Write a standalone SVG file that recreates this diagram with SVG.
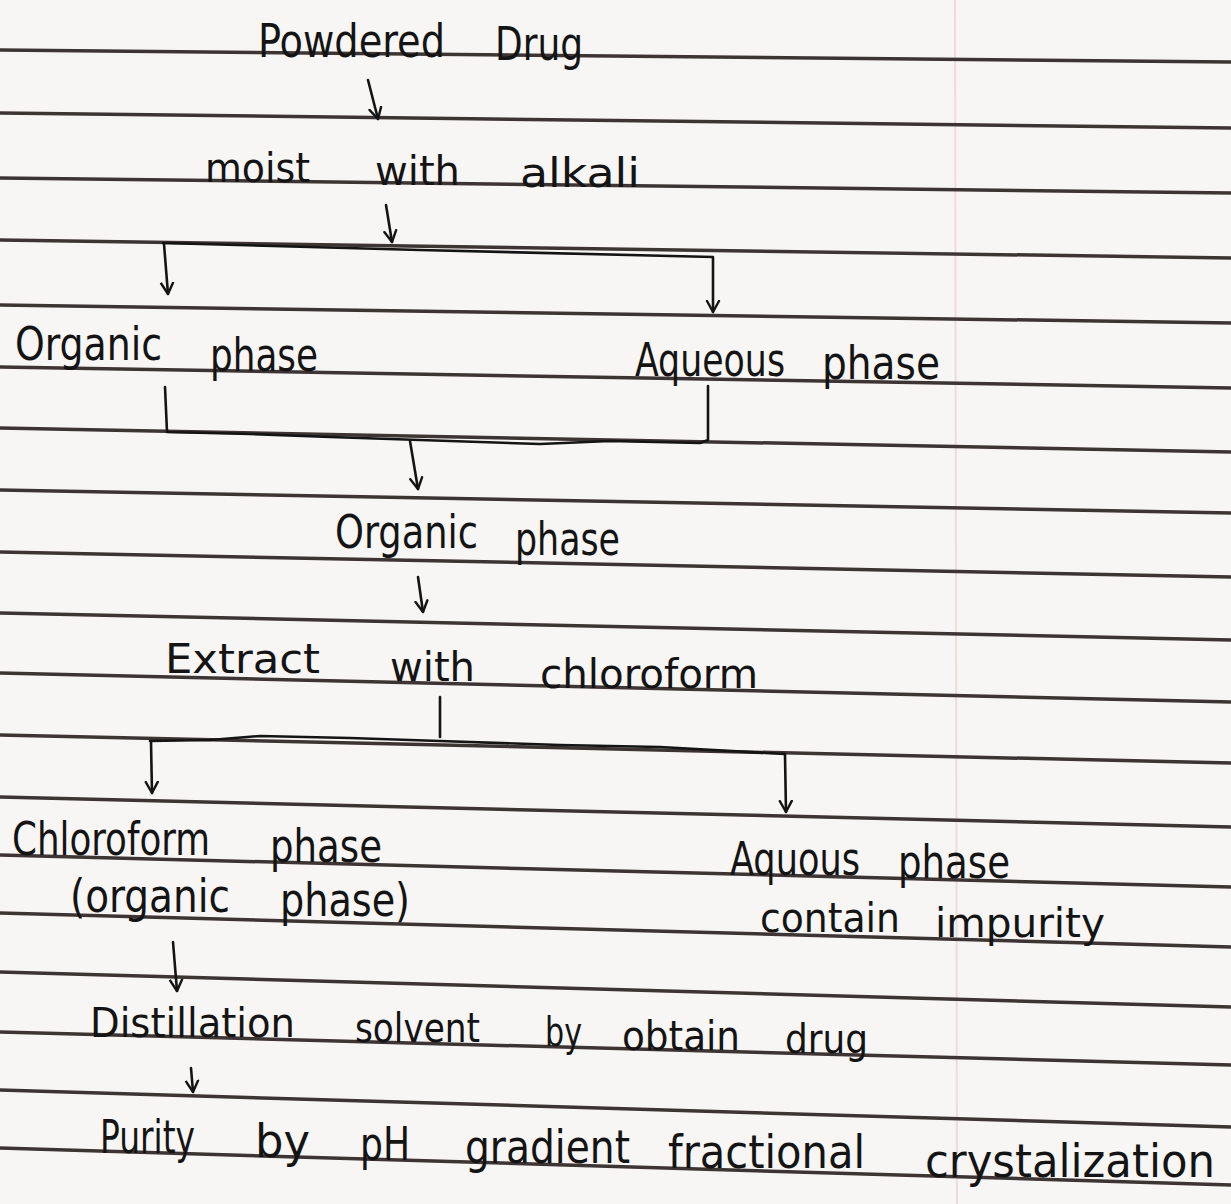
<svg xmlns="http://www.w3.org/2000/svg" width="1231" height="1204" viewBox="0 0 1231 1204">
<defs>
<marker id="ah" viewBox="-12 -8 14 16" refX="0" refY="0" markerWidth="14" markerHeight="16" markerUnits="userSpaceOnUse" orient="auto">
<path d="M-11,-6 L0,0 L-11,6" fill="none" stroke="#141414" stroke-width="2.4" stroke-linecap="round" stroke-linejoin="round"/>
</marker>
</defs>
<style>
.rule{stroke:#3d3434;stroke-width:3.5;fill:none}
.t{font-family:"DejaVu Sans Condensed","Liberation Sans",sans-serif;font-size:46px;fill:#141414}
.s{font-size:40px}
.c{fill:none;stroke:#141414;stroke-width:2.6;stroke-linecap:round;stroke-linejoin:round}
.a{marker-end:url(#ah)}
</style>
<rect width="1231" height="1204" fill="#f8f6f4"/>
<line x1="955" y1="0" x2="957" y2="1204" stroke="#ecdcdc" stroke-width="2"/>
<g id="ruled-lines">
<line class="rule" x1="0" y1="50" x2="1231" y2="62"/>
<line class="rule" x1="0" y1="113" x2="1231" y2="128"/>
<line class="rule" x1="0" y1="178" x2="1231" y2="193"/>
<line class="rule" x1="0" y1="240" x2="1231" y2="258"/>
<line class="rule" x1="0" y1="305" x2="1231" y2="323"/>
<line class="rule" x1="0" y1="367" x2="1231" y2="388"/>
<line class="rule" x1="0" y1="428" x2="1231" y2="452"/>
<line class="rule" x1="0" y1="490" x2="1231" y2="513"/>
<line class="rule" x1="0" y1="552" x2="1231" y2="577"/>
<line class="rule" x1="0" y1="613" x2="1231" y2="640"/>
<line class="rule" x1="0" y1="673" x2="1231" y2="702"/>
<line class="rule" x1="0" y1="735" x2="1231" y2="763"/>
<line class="rule" x1="0" y1="797" x2="1231" y2="827"/>
<line class="rule" x1="0" y1="855" x2="1231" y2="887"/>
<line class="rule" x1="0" y1="913" x2="1231" y2="947"/>
<line class="rule" x1="0" y1="972" x2="1231" y2="1007"/>
<line class="rule" x1="0" y1="1032" x2="1231" y2="1065"/>
<line class="rule" x1="0" y1="1090" x2="1231" y2="1127"/>
<line class="rule" x1="0" y1="1148" x2="1231" y2="1185"/>
</g>
<g id="connectors">
<path class="c a" d="M368,80 L378,119"/>
<path class="c a" d="M386,205 L392,242"/>
<path class="c" d="M163,243 L420,250 L713,257"/>
<path class="c a" d="M164,244 L168,294"/>
<path class="c a" d="M713,258 L713,312"/>
<path class="c" d="M165,387 L167,432 L250,434 L330,437 L420,440 L540,444 L610,441 L700,443 L708,440 L708,386"/>
<path class="c a" d="M410,441 L418,489"/>
<path class="c a" d="M418,577 L423,612"/>
<path class="c" d="M440,697 L440,737"/>
<path class="c" d="M150,741 L210,740 L260,736 L350,738 L440,741 L560,745 L660,747 L785,754"/>
<path class="c a" d="M151,742 L152,793"/>
<path class="c a" d="M785,755 L786,812"/>
<path class="c a" d="M173,942 L177,991"/>
<path class="c a" d="M191,1068 L193,1092"/>
</g>
<g id="n1"><text class="t" x="258" y="57" textLength="187" lengthAdjust="spacingAndGlyphs">Powdered</text><text class="t" x="495" y="60" textLength="88" lengthAdjust="spacingAndGlyphs">Drug</text></g>
<g id="n2"><text class="t s" x="205" y="182" textLength="105" lengthAdjust="spacingAndGlyphs">moist</text><text class="t s" x="375" y="185" textLength="85" lengthAdjust="spacingAndGlyphs">with</text><text class="t s" x="520" y="187" textLength="120" lengthAdjust="spacingAndGlyphs">alkali</text></g>
<g id="n3"><text class="t" x="15" y="360" textLength="147" lengthAdjust="spacingAndGlyphs">Organic</text><text class="t" x="210" y="371" textLength="108" lengthAdjust="spacingAndGlyphs">phase</text></g>
<g id="n4"><text class="t" x="635" y="376" textLength="150" lengthAdjust="spacingAndGlyphs">Aqueous</text><text class="t" x="822" y="379" textLength="118" lengthAdjust="spacingAndGlyphs">phase</text></g>
<g id="n5"><text class="t" x="335" y="548" textLength="143" lengthAdjust="spacingAndGlyphs">Organic</text><text class="t" x="515" y="555" textLength="105" lengthAdjust="spacingAndGlyphs">phase</text></g>
<g id="n6"><text class="t s" x="165" y="673" textLength="155" lengthAdjust="spacingAndGlyphs">Extract</text><text class="t s" x="390" y="681" textLength="85" lengthAdjust="spacingAndGlyphs">with</text><text class="t s" x="540" y="688" textLength="218" lengthAdjust="spacingAndGlyphs">chloroform</text></g>
<g id="n7"><text class="t" x="12" y="855" textLength="198" lengthAdjust="spacingAndGlyphs">Chloroform</text><text class="t" x="270" y="862" textLength="112" lengthAdjust="spacingAndGlyphs">phase</text><text class="t" x="70" y="912" textLength="160" lengthAdjust="spacingAndGlyphs">(organic</text><text class="t" x="280" y="916" textLength="130" lengthAdjust="spacingAndGlyphs">phase)</text></g>
<g id="n8"><text class="t" x="730" y="875" textLength="130" lengthAdjust="spacingAndGlyphs">Aquous</text><text class="t" x="898" y="878" textLength="112" lengthAdjust="spacingAndGlyphs">phase</text><text class="t s" x="760" y="932" textLength="140" lengthAdjust="spacingAndGlyphs">contain</text><text class="t s" x="935" y="937" textLength="170" lengthAdjust="spacingAndGlyphs">impurity</text></g>
<g id="n9"><text class="t s" x="90" y="1037" textLength="205" lengthAdjust="spacingAndGlyphs">Distillation</text><text class="t s" x="355" y="1042" textLength="125" lengthAdjust="spacingAndGlyphs">solvent</text><text class="t s" x="545" y="1046" textLength="37" lengthAdjust="spacingAndGlyphs">by</text><text class="t s" x="622" y="1050" textLength="118" lengthAdjust="spacingAndGlyphs">obtain</text><text class="t s" x="785" y="1053" textLength="83" lengthAdjust="spacingAndGlyphs">drug</text></g>
<g id="n10"><text class="t" x="100" y="1153" textLength="95" lengthAdjust="spacingAndGlyphs">Purity</text><text class="t" x="255" y="1157" textLength="55" lengthAdjust="spacingAndGlyphs">by</text><text class="t" x="360" y="1160" textLength="50" lengthAdjust="spacingAndGlyphs">pH</text><text class="t" x="465" y="1163" textLength="165" lengthAdjust="spacingAndGlyphs">gradient</text><text class="t" x="668" y="1168" textLength="197" lengthAdjust="spacingAndGlyphs">fractional</text><text class="t" x="925" y="1177" textLength="290" lengthAdjust="spacingAndGlyphs">crystalization</text></g>
</svg>
